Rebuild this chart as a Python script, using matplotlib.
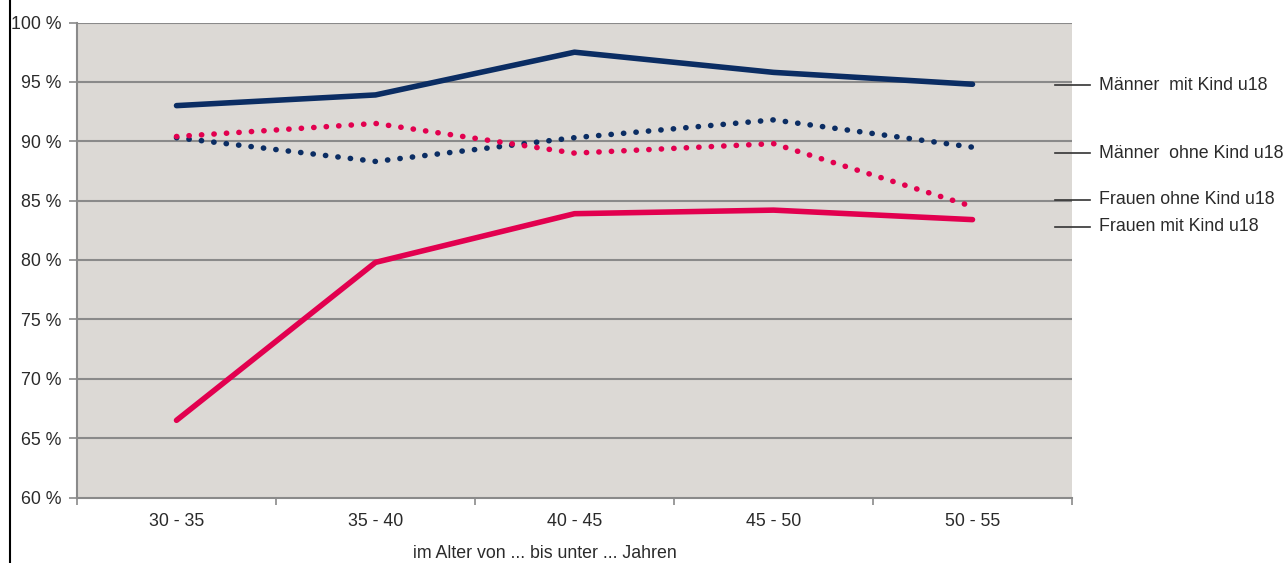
import numpy as np
import matplotlib
matplotlib.use("Agg")
import matplotlib.pyplot as plt
from matplotlib.lines import Line2D

plt.rcParams['font.family'] = ['Liberation Sans', 'DejaVu Sans']

age_groups = ["30 - 35", "35 - 40", "40 - 45", "45 - 50", "50 - 55"]
maenner_mit_kind = [93.0, 93.9, 97.5, 95.8, 94.8]
maenner_ohne_kind = [90.3, 88.3, 90.3, 91.8, 89.5]
frauen_ohne_kind = [90.4, 91.5, 89.0, 89.8, 84.5]
frauen_mit_kind = [66.5, 79.8, 83.9, 84.2, 83.4]
y_ticks = [60, 65, 70, 75, 80, 85, 90, 95, 100]

NAVY = "#0b2d63"
PINK = "#e2004f"
BG = "#dcd9d5"
GRID = "#8a8a8a"
TEXT = "#2a2a2a"
FS = 12.8

W, H = 1285, 563
fig = plt.figure(figsize=(W / 100, H / 100), dpi=100)
ax = fig.add_axes([77 / W, 1 - 497.5 / H, (1072 - 77) / W, (497.5 - 22.5) / H])
ax.set_facecolor(BG)

x = np.arange(len(age_groups))
ax.set_xlim(-0.5, len(age_groups) - 0.5)
ax.set_ylim(60, 100)

for yv in y_ticks[1:]:
    ax.axhline(yv, color=GRID, lw=1.5, zorder=1)

dot = (0, (0.05, 2.2))
ax.plot(x, maenner_ohne_kind, color=NAVY, lw=4.0, ls=dot,
        dash_capstyle='round', zorder=3)
ax.plot(x, frauen_ohne_kind, color=PINK, lw=4.0, ls=dot,
        dash_capstyle='round', zorder=3)
ax.plot(x, maenner_mit_kind, color=NAVY, lw=4.0,
        solid_capstyle='round', solid_joinstyle='round', zorder=4)
ax.plot(x, frauen_mit_kind, color=PINK, lw=4.0,
        solid_capstyle='round', solid_joinstyle='round', zorder=4)

ax.set_yticks(y_ticks)
ax.set_yticklabels([f"{v} %" for v in y_ticks])
ax.set_xticks(x)
ax.set_xticklabels(age_groups)
ax.set_xticks(np.arange(-0.5, len(age_groups)), minor=True)
ax.tick_params(axis='x', which='major', length=0, pad=11, labelsize=FS, labelcolor=TEXT)
ax.tick_params(axis='x', which='minor', length=5, width=1.2, color=GRID)
ax.tick_params(axis='y', length=6, width=1.2, color=GRID, pad=5, labelsize=FS, labelcolor=TEXT)

for side in ("top", "right"):
    ax.spines[side].set_visible(False)
for side in ("left", "bottom"):
    ax.spines[side].set_color(GRID)
    ax.spines[side].set_linewidth(1.5)

# series labels with leader lines on the right
labels = [
    ("Männer  mit Kind u18", 85),
    ("Männer  ohne Kind u18", 153),
    ("Frauen ohne Kind u18", 200),
    ("Frauen mit Kind u18", 227),
]
for text, ypx in labels:
    yf = 1 - ypx / H
    fig.add_artist(Line2D([1055 / W, 1090 / W], [yf, yf], color="#333333", lw=1.2))
    fig.text(1099 / W, yf, text, ha='left', va='center', fontsize=FS, color=TEXT)

fig.text(545 / W, 1 - 553 / H, "im Alter von ... bis unter ... Jahren",
         ha='center', va='center', fontsize=FS, color=TEXT)

# frame line on the left edge
fig.add_artist(Line2D([10 / W, 10 / W], [0, 1], color="black", lw=1.5))

fig.savefig("out.png", dpi=100)
